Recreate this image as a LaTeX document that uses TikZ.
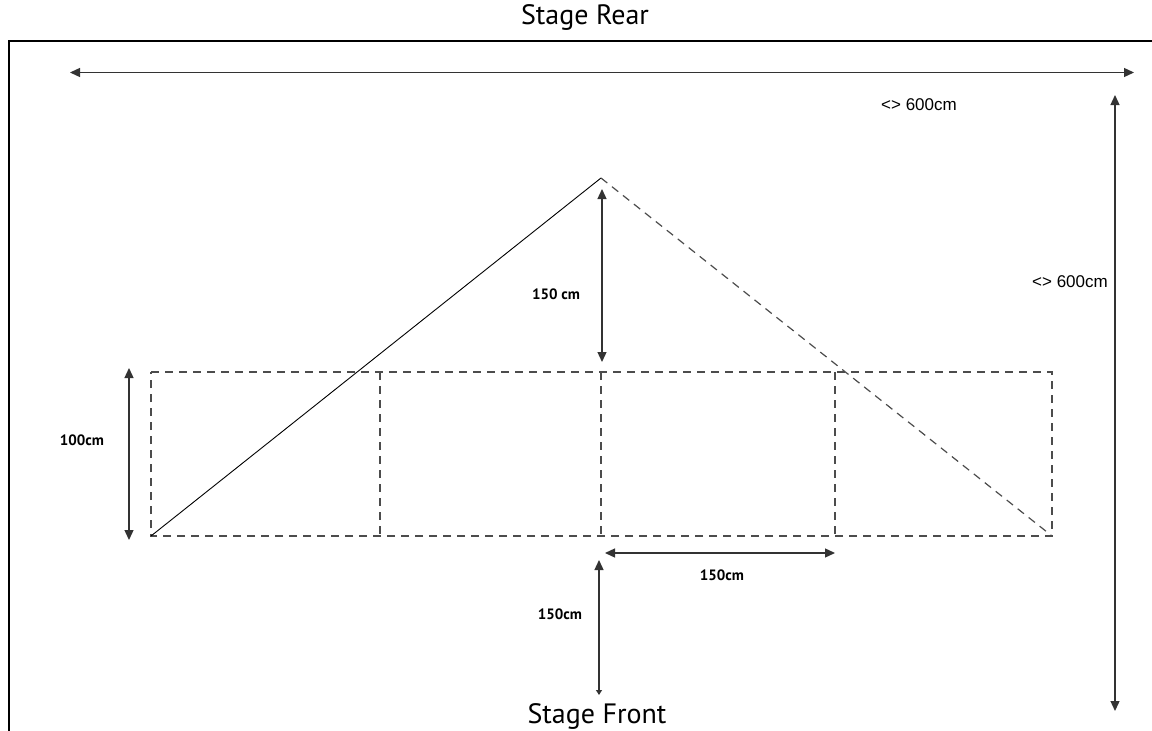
\documentclass[tikz,border=0pt]{standalone}
\usepackage{fontspec}
\setmainfont{PT Sans}
\newfontfamily\helvfont{Liberation Sans}
\usetikzlibrary{arrows.meta}

\begin{document}
\begin{tikzpicture}[x=1pt,y=-1pt]
        \tikzstyle{every node}+=[inner sep=0pt]
        \tikzstyle{dimline}=[draw=black!80, line width=1.3pt, {Triangle[length=10pt,width=9pt]}-{Triangle[length=10pt,width=9pt]}]
        \tikzstyle{grid}=[draw=black!70, line width=1.2pt, dash pattern=on 8pt off 6pt]
        \tikzstyle{dimlabel}=[font=\bfseries\fontsize{15}{17}\selectfont]
        \tikzstyle{sizelabel}=[font=\helvfont\fontsize{17}{19}\selectfont]
        \tikzstyle{stagelabel}=[font=\fontsize{28}{30}\selectfont]
        \useasboundingbox (0,0) rectangle (1152,731);
        % frame
        \draw [black, line width=2.5pt] (9,731) -- (9,41) -- (1152,41);
        \node [stagelabel] (rear) at (585,17) {Stage Rear};
        \node [stagelabel] (front) at (597,716) {Stage Front};
        % corners of the grid
        \coordinate (bl) at (151,536);
        \coordinate (br) at (1052,536);
        \coordinate (tl) at (151,372);
        \coordinate (tr) at (1052,372);
        \coordinate (apex) at (601,178);
        \foreach \x/\n in {380/a,601/b,835/c} {
          \coordinate (top\n) at (\x,372);
          \coordinate (bot\n) at (\x,536);
        }
        \draw [grid] (tl) -- (tr) -- (br) -- (bl) -- cycle;
        \foreach \n in {a,b,c} \draw [grid] (top\n) -- (bot\n);
        \draw [black, line width=0.9pt] (bl) -- (apex);
        \draw [grid] (apex) -- (br);
        % overall size
        \coordinate (wl) at (70,72.5);
        \coordinate (wr) at (1134,72.5);
        \draw [dimline] (wl) -- (wr);
        \node [sizelabel] (wlab) at (919,105) {<> 600cm};
        \coordinate (dt) at (1115,95);
        \coordinate (db) at (1115,711);
        \draw [dimline] (dt) -- (db);
        \node [sizelabel, anchor=east] (dlab) at (1108,282) {<> 600cm};
        % module sizes
        \coordinate (ht) at (129,368);
        \coordinate (hb) at (129,540);
        \draw [dimline] (ht) -- (hb);
        \node [dimlabel] (hlab) at (82,440) {100cm};
        \coordinate (at) at (602,189);
        \coordinate (ab) at (602,362);
        \draw [dimline] (at) -- (ab);
        \node [dimlabel] (alab) at (556,294) {150 cm};
        \coordinate (ml) at (605,553);
        \coordinate (mr) at (835,553);
        \draw [dimline] (ml) -- (mr);
        \node [dimlabel] (mlab) at (722,575) {150cm};
        \coordinate (ft) at (599,560);
        \coordinate (fb) at (599,695);
        \draw [draw=black!80, line width=1.3pt, {Triangle[length=10pt,width=9pt]}-{Triangle[length=5pt,width=6pt]}] (ft) -- (fb);
        \node [dimlabel] (flab) at (560,614) {150cm};
\end{tikzpicture}
\end{document}
